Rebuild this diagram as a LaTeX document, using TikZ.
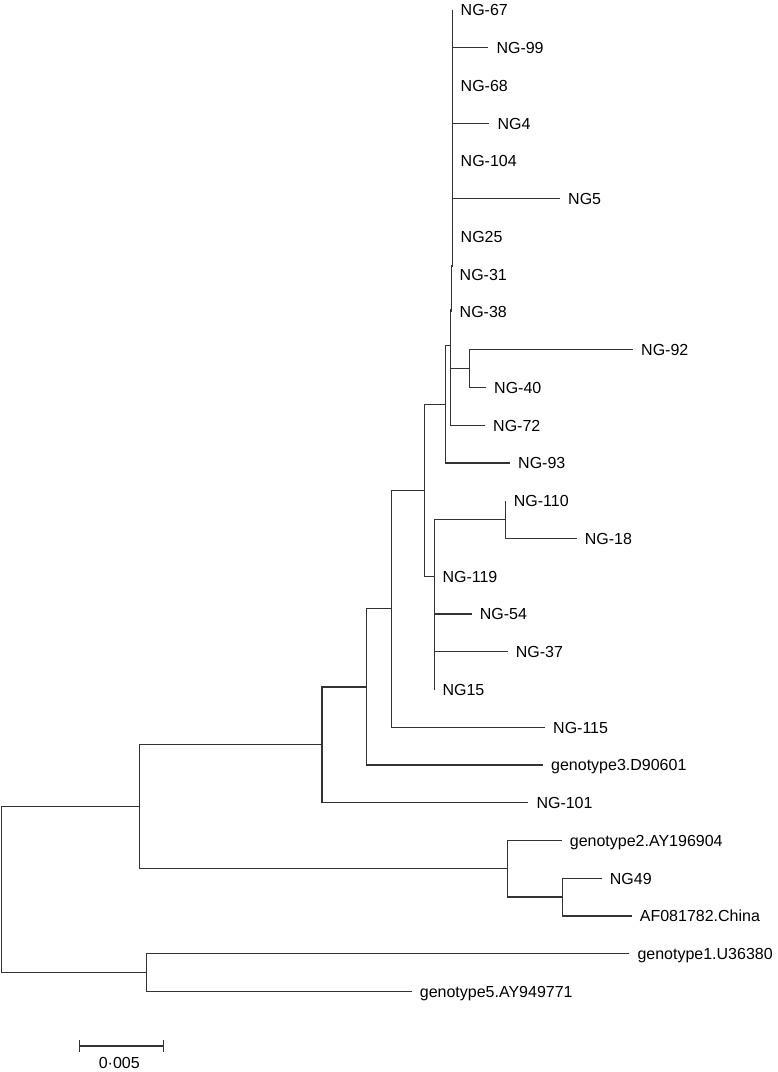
\documentclass[tikz,border=0pt]{standalone}
\usepackage{fontspec}
\setmainfont{Liberation Sans}
\begin{document}
\begin{tikzpicture}[
  x=1pt, y=-1pt,
  branch/.style   = {draw=black!80, line width=1.25pt},
  leaf/.style     = {anchor=west, inner xsep=8pt, inner ysep=0pt,
                     text height=11.5pt, text depth=0pt,
                     font=\fontsize{16}{18}\selectfont},
  scalelbl/.style = {font=\fontsize{16}{18}\selectfont}
]
\useasboundingbox (0,0) rectangle (778,1072);

% ---- internal nodes ----
\coordinate (root) at (1.2,889.7);
\coordinate (n1)   at (139.3,806.8);
\coordinate (n2)   at (146.7,972.6);
\coordinate (nB)   at (322,744.8);
\coordinate (nC)   at (366.7,686.9);
\coordinate (nD)   at (391.7,608.8);
\coordinate (nE)   at (424.3,490.3);
\coordinate (nF)   at (445.7,404.4);
\coordinate (nH)   at (450.7,345.7);
\coordinate (nQ)   at (451.5,310);
\coordinate (nP)   at (452.5,266);
\coordinate (nK)   at (469.3,368.6);
\coordinate (nG)   at (434.3,576.25);
\coordinate (nL)   at (505.7,519.6);
\coordinate (nG2)  at (507.7,868.8);
\coordinate (nM)   at (562.7,897.1);

% ---- leaves ----
\node[leaf] (ng67)  at (452.5,10)     {NG-67};
\node[leaf] (ng99)  at (488.3,47.75)  {NG-99};
\node[leaf] (ng68)  at (452.5,85.5)   {NG-68};
\node[leaf] (ng4)   at (489.3,123.25) {NG4};
\node[leaf] (ng104) at (452.5,161)    {NG-104};
\node[leaf] (ng5)   at (560,198.75)   {NG5};
\node[leaf] (ng25)  at (452.5,236.5)  {NG25};
\node[leaf] (ng31)  at (451.5,274.25) {NG-31};
\node[leaf] (ng38)  at (451.5,312)    {NG-38};
\node[leaf] (ng92)  at (633,349.75)   {NG-92};
\node[leaf] (ng40)  at (486,387.5)    {NG-40};
\node[leaf] (ng72)  at (485,425.25)   {NG-72};
\node[leaf] (ng93)  at (510,463)      {NG-93};
\node[leaf] (ng110) at (505.7,500.75) {NG-110};
\node[leaf] (ng18)  at (576.7,538.5)  {NG-18};
\node[leaf] (ng119) at (434.3,576.25) {NG-119};
\node[leaf] (ng54)  at (471.7,614)    {NG-54};
\node[leaf] (ng37)  at (507.7,651.75) {NG-37};
\node[leaf] (ng15)  at (434.3,689.5)  {NG15};
\node[leaf] (ng115) at (545,727.25)   {NG-115};
\node[leaf] (gt3)   at (543,765)      {genotype3.D90601};
\node[leaf] (ng101) at (528.3,802.75) {NG-101};
\node[leaf] (gt2)   at (561.7,840.5)  {genotype2.AY196904};
\node[leaf] (ng49)  at (601.7,878.25) {NG49};
\node[leaf] (af)    at (631.7,916)    {AF081782.China};
\node[leaf] (gt1)   at (629.3,953.75) {genotype1.U36380};
\node[leaf] (gt5)   at (411.7,991.5)  {genotype5.AY949771};

% ---- branches ----
\draw[branch] (root) |- (n1);  \draw[branch] (root) |- (n2);
\draw[branch] (n1) |- (nB);    \draw[branch] (n1) |- (nG2);
\draw[branch] (nB) |- (nC);    \draw[branch] (nB) |- (ng101.west);
\draw[branch] (nC) |- (nD);    \draw[branch] (nC) |- (gt3.west);
\draw[branch] (nD) |- (nE);    \draw[branch] (nD) |- (ng115.west);
\draw[branch] (nE) |- (nF);    \draw[branch] (nE) |- (nG);
\draw[branch] (nF) |- (nH);    \draw[branch] (nF) |- (ng93.west);
\draw[branch] (nH) |- (nQ);    \draw[branch] (nH) |- (nK);
\draw[branch] (nH) |- (ng72.west);
\draw[branch] (nQ) |- (nP);    \draw[branch] (nQ) |- (ng31.west);
\draw[branch] (nQ) |- (ng38.west);
\draw[branch] (nP) |- (ng67.west);  \draw[branch] (nP) |- (ng99.west);
\draw[branch] (nP) |- (ng68.west);  \draw[branch] (nP) |- (ng4.west);
\draw[branch] (nP) |- (ng104.west); \draw[branch] (nP) |- (ng5.west);
\draw[branch] (nP) |- (ng25.west);
\draw[branch] (nK) |- (ng92.west);  \draw[branch] (nK) |- (ng40.west);
\draw[branch] (nG) |- (nL);         \draw[branch] (nG) |- (ng119.west);
\draw[branch] (nG) |- (ng54.west);  \draw[branch] (nG) |- (ng37.west);
\draw[branch] (nG) |- (ng15.west);
\draw[branch] (nL) |- (ng110.west); \draw[branch] (nL) |- (ng18.west);
\draw[branch] (nG2) |- (gt2.west);  \draw[branch] (nG2) |- (nM);
\draw[branch] (nM) |- (ng49.west);  \draw[branch] (nM) |- (af.west);
\draw[branch] (n2) |- (gt1.west);   \draw[branch] (n2) |- (gt5.west);

% ---- scale bar ----
\coordinate (sbl) at (79.3,1046);
\coordinate (sbr) at (163.7,1046);
\draw[branch] (sbl) -- (sbr);
\draw[branch] ([yshift=6pt]sbl) -- ([yshift=-6pt]sbl);
\draw[branch] ([yshift=6pt]sbr) -- ([yshift=-6pt]sbr);
\node[scalelbl] (sbtxt) at (119.3,1062.5) {0·005};

\end{tikzpicture}
\end{document}
